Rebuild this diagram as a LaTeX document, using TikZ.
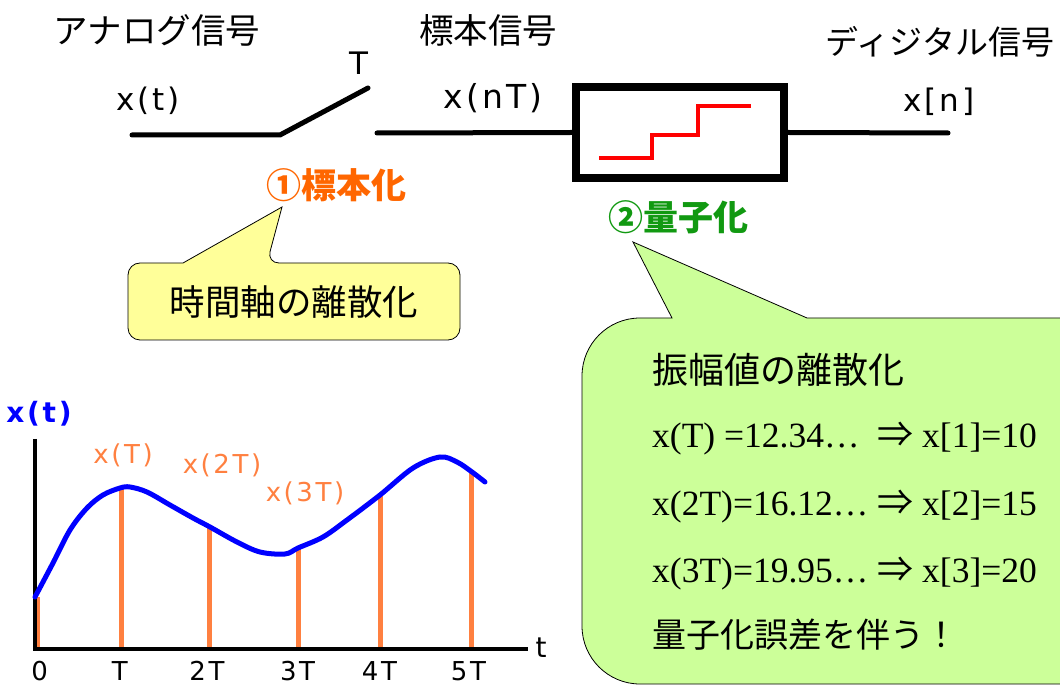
\documentclass[tikz,border=0pt]{standalone}
\usepackage{fontspec}
\setmainfont{Liberation Serif}
\newfontfamily\jp{Noto Sans CJK JP}
\newfontfamily\lat[LetterSpace=10]{DejaVu Sans}
\definecolor{sampOrange}{HTML}{FF6600}
\definecolor{stemOrange}{HTML}{FF8040}
\definecolor{quantGreen}{HTML}{119911}
\definecolor{calloutYellow}{HTML}{FFFF99}
\definecolor{calloutGreen}{HTML}{CCFF99}
\definecolor{curveBlue}{HTML}{0000FF}
\newcommand{\impl}{{\jp\fontsize{36}{40}\selectfont ⇒}}
\tikzset{
  jptext/.style={font=\jp\fontsize{34.5}{38}\selectfont, inner sep=0pt},
  jpbig/.style={font=\jp\fontsize{36}{40}\selectfont, inner sep=0pt},
  jpbold/.style={font=\jp\bfseries\fontsize{35}{38}\selectfont, inner sep=0pt},
  latlabel/.style={font=\lat\fontsize{31}{36}\selectfont, inner sep=0pt},
  samplabel/.style={font=\lat\fontsize{26}{30}\selectfont, inner sep=0pt, text=stemOrange},
  ticklabel/.style={font=\lat\fontsize{26}{30}\selectfont, inner sep=0pt},
  serifline/.style={font=\fontsize{35.5}{40}\selectfont, inner sep=0pt, anchor=base west},
  wire/.style={line width=5pt, line cap=round},
  stem/.style={line width=5pt, stemOrange},
  axisline/.style={line width=4pt}
}
\begin{document}
\begin{tikzpicture}[x=1pt,y=1pt]
\useasboundingbox (0,0) rectangle (1060,686);
\begin{scope}
\clip (0,0) rectangle (1060,686);
% ---------- top signal chain ----------
\node[jptext] (analog) at (157,656) {アナログ信号};
\node[jptext] (sampled) at (488,656) {標本信号};
\node[jptext, font=\jp\fontsize{33}{38}\selectfont] (digital) at (940,644) {ディジタル信号};
\node[latlabel] (xt) at (148,585) {x(t)};
\node[latlabel] (Tlab) at (359,623) {T};
\node[latlabel, font=\lat\fontsize{33}{38}\selectfont] (xnT) at (493,588) {x(nT)};
\node[latlabel] (xn) at (939,584) {x[n]};

\coordinate (inL) at (132,551);
\coordinate (pivot) at (280,551);
\coordinate (swEnd) at (368,598);
\coordinate (outS) at (377,553);
\coordinate (outD) at (948,553);
\draw[wire] (inL) -- (pivot) -- (swEnd);

\node[draw, line width=8pt, minimum width=208pt, minimum height=91pt, inner sep=0pt, fill=white] (quant) at (680,553.5) {};
\draw[wire] (outS) -- (quant.west);
\draw[wire] (quant.east) -- (outD);
\draw[red, line width=3.3pt] (599,528) -- (652,528) -- (652,551) -- (698,551) -- (698,580) -- (751,580);

\node[jpbold, text=sampOrange] (samp) at (336,501) {①標本化};
\node[jpbold, text=quantGreen] (quantlab) at (678,469) {②量子化};

% ---------- yellow callout ----------
\draw[fill=calloutYellow, line width=0.8pt, rounded corners=12pt] (128,423) -- (128,346) -- (460,346) -- (460,423) -- (267,423) [sharp corners] -- (282,479) -- (183,423) [rounded corners=12pt] -- cycle;
\node[jpbig, font=\jp\fontsize{35.5}{40}\selectfont] (timeD) at (294,384) {時間軸の離散化};

% ---------- green callout ----------
\draw[fill=calloutGreen, line width=0.8pt] (672,368) -- (633,444) -- (807,368) -- (1080,368) -- (1080,2) -- (640,2) arc[start angle=270, end angle=180, radius=58] -- (582,310) arc[start angle=180, end angle=90, radius=58] -- cycle;
\node[jpbig, anchor=west] (ampD) at (652,316) {振幅値の離散化};
\node[serifline] (l1) at (652,238) {x(T) =12.34…\ \ \impl\ x[1]=10};
\node[serifline] (l2) at (652,171) {x(2T)=16.12… \impl\ x[2]=15};
\node[serifline] (l3) at (652,104) {x(3T)=19.95… \impl\ x[3]=20};
\node[jptext, anchor=west, font=\jp\fontsize{34}{40}\selectfont] (qerr) at (652,51) {量子化誤差を伴う！};

% ---------- graph ----------
\coordinate (origin) at (35,37);
\coordinate (yTop) at (35,247);
\coordinate (xEnd) at (528,37);
\foreach \x/\h in {37.3/89,121/198,209/160,298.5/138,380.5/191,471/214}{
  \draw[stem] (\x,37) -- (\x,\h);
}
\draw[axisline] (yTop) -- (origin) -- (xEnd);
\draw[curveBlue, line width=5pt, line cap=round] plot[smooth, tension=0.55] coordinates {(35,89) (53,123) (70,156) (87,178) (103,191) (120,198) (130,199) (147,194) (170,181) (193,168) (210,159) (237,144) (260,134) (285,132) (298,138) (323,149) (347,166) (380,191) (413,218) (440,229) (457,224) (472,214) (485,204)};

\node[latlabel, font=\lat\bfseries\fontsize{28}{32}\selectfont, text=curveBlue] (ylab) at (39,272) {x(t)};
\node[samplabel] (sT) at (123,231) {x(T)};
\node[samplabel] (s2T) at (222,221) {x(2T)};
\node[samplabel] (s3T) at (305,193) {x(3T)};
\node[ticklabel] (t0) at (39.6,15) {0};
\node[ticklabel] (t1) at (119.7,15) {T};
\node[ticklabel] (t2) at (207,15) {2T};
\node[ticklabel] (t3) at (297.6,15) {3T};
\node[ticklabel] (t4) at (379.5,15) {4T};
\node[ticklabel] (t5) at (468.5,15) {5T};
\node[latlabel, font=\lat\fontsize{28}{32}\selectfont] (tlab) at (541,38) {t};
\end{scope}
\end{tikzpicture}
\end{document}
